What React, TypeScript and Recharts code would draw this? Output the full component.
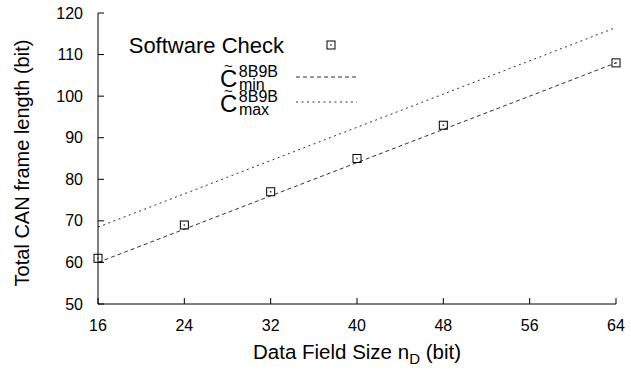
import React from 'react';
import { ComposedChart, Line, Scatter, XAxis, YAxis } from 'recharts';

// ---- data ----
const fieldSizes = [16, 24, 32, 40, 48, 56, 64];
const cMinValues = [60, 68, 76, 84, 92, 100, 108];
const cMaxValues = [68.5, 76.5, 84.5, 92.5, 100.5, 108.5, 116.5];
const checkSizes = [16, 24, 32, 40, 48, 64];
const checkValues = [61, 69, 77, 85, 93, 108];
const xTicks = [16, 24, 32, 40, 48, 56, 64];
const yTicks = [50, 60, 70, 80, 90, 100, 110, 120];

const minData = fieldSizes.map((x, i) => ({ x, y: cMinValues[i] }));
const maxData = fieldSizes.map((x, i) => ({ x, y: cMaxValues[i] }));
const checkData = checkSizes.map((x, i) => ({ x, y: checkValues[i] }));

const FONT = '"Liberation Sans", Arial, Helvetica, sans-serif';

const XTick = (props: any) => {
  const { x, y, payload } = props;
  return (
    <g>
      <line x1={x} y1={y} x2={x} y2={y - 6} stroke="#000" strokeWidth={1} />
      <text x={x} y={y + 27} textAnchor="middle" fontSize={16} fill="#000" fontFamily={FONT}>
        {payload.value}
      </text>
    </g>
  );
};

const YTick = (props: any) => {
  const { x, y, payload } = props;
  return (
    <g>
      <line x1={x} y1={y} x2={x + 6} y2={y} stroke="#000" strokeWidth={1} />
      <text x={x - 15} y={y + 5.5} textAnchor="end" fontSize={16} fill="#000" fontFamily={FONT}>
        {payload.value}
      </text>
    </g>
  );
};

const SquareDot = (props: any) => {
  const { cx, cy } = props;
  if (cx == null || cy == null) return null;
  return (
    <g>
      <rect x={cx - 4} y={cy - 4} width={8} height={8} fill="none" stroke="#000" strokeWidth={1} />
      <rect x={cx - 0.75} y={cy - 0.75} width={1.5} height={1.5} fill="#333" />
    </g>
  );
};

const KeyLabel = ({ y, sub }: { y: number; sub: string }) => (
  <g>
    <text x={228.5} y={y - 6.5} textAnchor="middle" fontSize={15} fill="#000">~</text>
    <text x={220} y={y + 10} fontSize={24} fill="#000">
      C
      <tspan fontSize={16} dx={1.5} dy={-10}>8B9B</tspan>
      <tspan fontSize={16} dx={-39.1} dy={13}>{sub}</tspan>
    </text>
  </g>
);

const Key = () => (
  <svg
    width={631}
    height={373}
    style={{ position: 'absolute', left: 0, top: 0, pointerEvents: 'none' }}
    fontFamily={FONT}
  >
    <text x={284} y={52.5} textAnchor="end" fontSize={22} fill="#000">Software Check</text>
    <rect x={327} y={41} width={8} height={8} fill="none" stroke="#000" />
    <rect x={330.25} y={44.25} width={1.5} height={1.5} fill="#333" />

    <KeyLabel y={77} sub="min" />
    <line x1={296} y1={77} x2={357} y2={77} stroke="#333" strokeWidth={1} strokeDasharray="4 3" />

    <KeyLabel y={102} sub="max" />
    <line x1={296} y1={102} x2={357} y2={102} stroke="#333" strokeWidth={1} strokeDasharray="2 3.5" />
  </svg>
);

const XLabel = () => (
  <text x={357} y={359} textAnchor="middle" fontSize={20.5} fill="#000" fontFamily={FONT}>
    Data Field Size n<tspan fontSize={15} dy={5}>D</tspan><tspan dy={-5}> (bit)</tspan>
  </text>
);

const YLabel = () => (
  <text
    x={29}
    y={163}
    textAnchor="middle"
    fontSize={20}
    fill="#000"
    fontFamily={FONT}
    transform="rotate(-90 29 163)"
  >
    Total CAN frame length (bit)
  </text>
);

export default function App() {
  return (
    <div style={{ position: 'absolute', left: 0, top: 0, width: 631, height: 373, background: '#fff', fontFamily: FONT }}>
      <ComposedChart width={631} height={373} margin={{ top: 13, right: 15, left: 0, bottom: 0 }}>
        <XAxis
          type="number"
          dataKey="x"
          domain={[16, 64]}
          ticks={xTicks}
          interval={0}
          height={69}
          tickSize={0}
          tickMargin={0}
          tickLine={false}
          tick={<XTick />}
          axisLine={{ stroke: '#000', strokeWidth: 1 }}
          allowDuplicatedCategory={false}
          label={<XLabel />}
        />
        <YAxis
          type="number"
          dataKey="y"
          domain={[50, 120]}
          ticks={yTicks}
          interval={0}
          width={98}
          tickSize={0}
          tickMargin={0}
          tickLine={false}
          tick={<YTick />}
          axisLine={{ stroke: '#000', strokeWidth: 1 }}
          label={<YLabel />}
        />
        <Line
          data={minData}
          dataKey="y"
          type="linear"
          stroke="#333"
          strokeWidth={1}
          strokeDasharray="4 3"
          dot={false}
          activeDot={false}
          isAnimationActive={false}
        />
        <Line
          data={maxData}
          dataKey="y"
          type="linear"
          stroke="#333"
          strokeWidth={1}
          strokeDasharray="2 3.5"
          dot={false}
          activeDot={false}
          isAnimationActive={false}
        />
        <Scatter data={checkData} dataKey="y" shape={<SquareDot />} isAnimationActive={false} />
      </ComposedChart>
      <Key />
    </div>
  );
}
